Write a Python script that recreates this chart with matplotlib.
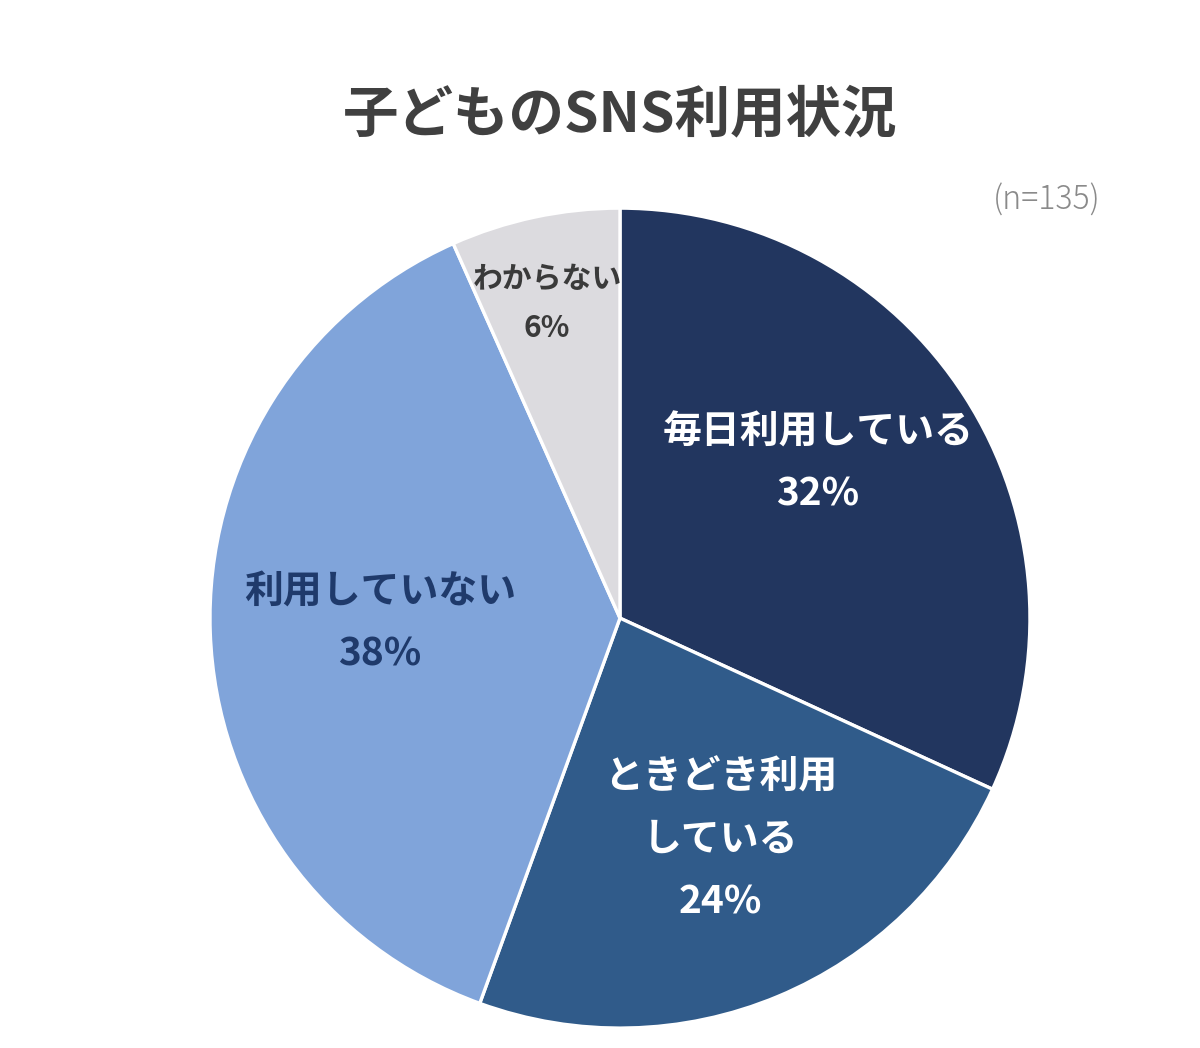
import matplotlib
matplotlib.use("Agg")
import matplotlib.pyplot as plt

plt.rcParams['font.family'] = ['Noto Sans CJK JP', 'DejaVu Sans']

title = "子どものSNS利用状況"
note = "(n=135)"
categories = ["毎日利用している", "ときどき利用\nしている", "利用していない", "わからない"]
counts = [43, 32, 51, 9]
pct_labels = ["32%", "24%", "38%", "6%"]
colors = ["#22365f", "#305b8a", "#80a4da", "#dcdbdf"]
text_colors = ["white", "white", "#1f3a6b", "#3a3a3a"]
label_sizes = [28, 28, 28, 21.5]
# label block centres (axes data units, radius = 1)
label_pos = [(0.483, 0.378), (0.246, -0.54), (-0.585, -0.012), (-0.178, 0.768)]

fig = plt.figure(figsize=(12, 10.48), dpi=100)
ax = fig.add_axes([0.175, 0.019, 0.6833, 0.7824])
wedges, _ = ax.pie(counts, colors=colors, startangle=90, counterclock=False,
                   radius=1.0,
                   wedgeprops=dict(edgecolor="white", linewidth=2.4))
ax.set_xlim(-1.0, 1.0)
ax.set_ylim(-1.0, 1.0)
ax.set_aspect("equal")
ax.axis("off")

for cat, p, tc, fs, (x, y) in zip(categories, pct_labels, text_colors, label_sizes, label_pos):
    ls = 1.75 if fs > 25 else 1.85
    ax.text(x, y, f"{cat}\n{p}", ha="center", va="center", color=tc,
            fontsize=fs, fontweight="bold", linespacing=ls)

fig.text(0.517, 0.890, title, ha="center", va="center", fontsize=40,
         fontweight="bold", color="#404040")
fig.text(0.872, 0.809, note, ha="center", va="center", fontsize=23,
         color="#8a8a8a", fontweight="light")

fig.savefig("out.png", dpi=100, facecolor="white")
